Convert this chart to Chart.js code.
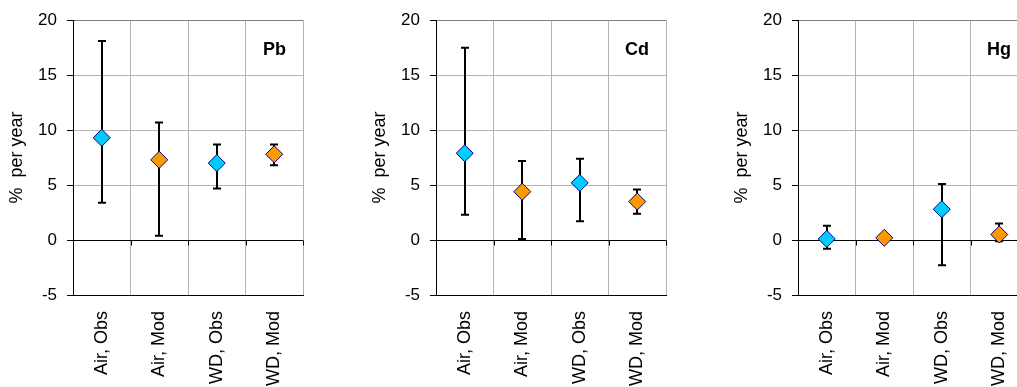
<!DOCTYPE html>
<html>
<head>
<meta charset="utf-8">
<script src="https://cdn.jsdelivr.net/npm/chart.js@4.4.0/dist/chart.umd.min.js"></script>
<style>
  html, body { margin: 0; padding: 0; background: #fff; overflow: hidden; width: 1017px; height: 387px; }
  .panel { position: absolute; top: 0; height: 387px; }
</style>
</head>
<body>
<div class="panel" style="left:0;width:340px"><canvas id="pb" width="340" height="387"></canvas></div>
<div class="panel" style="left:340px;width:340px"><canvas id="cd" width="340" height="387"></canvas></div>
<div class="panel" style="left:680px;width:360px"><canvas id="hg" width="360" height="387"></canvas></div>
<script>
const categories = ['Air, Obs', 'Air, Mod', 'WD, Obs', 'WD, Mod']
const pointColors = ['#00ccff', '#ff9900', '#00ccff', '#ff9900']

const pbValues = [9.3, 7.3, 7.0, 7.8]
const pbLow = [3.4, 0.4, 4.7, 6.8]
const pbHigh = [18.1, 10.7, 8.7, 8.7]

const cdValues = [7.9, 4.4, 5.2, 3.5]
const cdLow = [2.3, 0.1, 1.7, 2.4]
const cdHigh = [17.5, 7.2, 7.4, 4.6]

const hgValues = [0.1, 0.2, 2.8, 0.5]
const hgLow = [-0.8, null, -2.3, -0.1]
const hgHigh = [1.3, null, 5.1, 1.5]

const FONT = "'Liberation Sans', Arial, sans-serif"

// error bars + zero line + element label
const panelExtras = {
  id: 'panelExtras',
  beforeDatasetsDraw(chart, args, opts) {
    const { ctx, chartArea } = chart
    const x = chart.scales.x
    const y = chart.scales.y

    // zero line with tick marks below it
    const y0 = Math.round(y.getPixelForValue(0)) + 0.5
    ctx.save()
    ctx.strokeStyle = '#000'
    ctx.lineWidth = 1
    ctx.beginPath()
    ctx.moveTo(chartArea.left, y0)
    ctx.lineTo(chartArea.right, y0)
    for (let i = 1; i <= categories.length; i++) {
      const bx = Math.round(x.getPixelForValue(i - 0.5)) + 0.5
      ctx.moveTo(bx, y0)
      ctx.lineTo(bx, y0 + 5)
    }
    ctx.stroke()

    // error bars
    ctx.lineWidth = 2
    opts.low.forEach((lo, i) => {
      const hi = opts.high[i]
      if (lo == null || hi == null) return
      const px = Math.round(x.getPixelForValue(i))
      const yl = y.getPixelForValue(lo)
      const yh = y.getPixelForValue(hi)
      ctx.beginPath()
      ctx.moveTo(px, yl)
      ctx.lineTo(px, yh)
      ctx.moveTo(px - 4, yl)
      ctx.lineTo(px + 4, yl)
      ctx.moveTo(px - 4, yh)
      ctx.lineTo(px + 4, yh)
      ctx.stroke()
    })

    // element name
    ctx.fillStyle = '#000'
    ctx.font = 'bold 18px ' + FONT
    ctx.textAlign = 'right'
    ctx.textBaseline = 'middle'
    ctx.fillText(opts.name, chartArea.right - 17, chartArea.top + 30)
    ctx.restore()
  }
}

function makePanel(id, name, values, low, high, padLeft, padRight) {
  return new Chart(document.getElementById(id), {
    type: 'line',
    data: {
      labels: categories,
      datasets: [{
        data: values,
        showLine: false,
        pointStyle: 'rectRot',
        pointRadius: 8.5,
        pointHoverRadius: 8.5,
        pointBackgroundColor: pointColors,
        pointBorderColor: '#000080',
        pointBorderWidth: 1
      }]
    },
    options: {
      responsive: false,
      animation: false,
      layout: { padding: { left: padLeft, right: padRight, top: 20, bottom: 0 } },
      plugins: {
        legend: { display: false },
        tooltip: { enabled: false },
        panelExtras: { name: name, low: low, high: high }
      },
      scales: {
        x: {
          type: 'category',
          offset: true,
          grid: {
            offset: true,
            drawTicks: false,
            color: ctx => ctx.index === categories.length ? '#808080' : '#b4b4b4'
          },
          border: { display: true, color: '#000', width: 1 },
          ticks: {
            minRotation: 90,
            maxRotation: 90,
            padding: 16,
            color: '#000',
            font: { family: FONT, size: 18 }
          },
          afterFit(scale) { scale.height = 92 }
        },
        y: {
          min: -5,
          max: 20,
          ticks: {
            stepSize: 5,
            padding: 10,
            color: '#000',
            font: { family: FONT, size: 17 }
          },
          grid: {
            tickLength: 6,
            tickColor: '#000',
            color: ctx => {
              const v = ctx.tick ? ctx.tick.value : null
              if (v === -5) return '#000'
              if (v === 20) return '#808080'
              return '#b4b4b4'
            }
          },
          border: { display: true, color: '#000', width: 1 },
          title: {
            display: true,
            text: '%  per year',
            color: '#000',
            font: { family: FONT, size: 18 },
            padding: { top: 6, bottom: 0 }
          },
          afterFit(scale) { scale.width = 73 }
        }
      }
    },
    plugins: [panelExtras]
  })
}

makePanel('pb', 'Pb', pbValues, pbLow, pbHigh, 0, 37)
makePanel('cd', 'Cd', cdValues, cdLow, cdHigh, 23, 14)
makePanel('hg', 'Hg', hgValues, hgLow, hgHigh, 45, 12)
</script>
</body>
</html>
